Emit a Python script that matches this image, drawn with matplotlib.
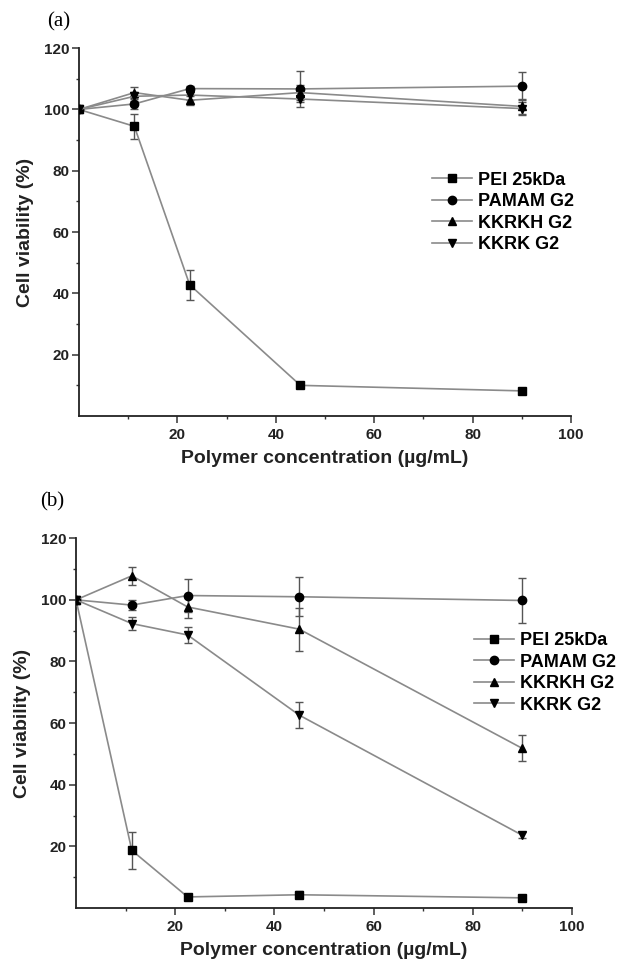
import matplotlib
matplotlib.use('Agg')
import matplotlib.pyplot as plt
from matplotlib.ticker import FixedLocator

plt.rcParams['font.family'] = ['Liberation Sans', 'DejaVu Sans']
plt.rcParams['font.weight'] = 'bold'

conc = [0, 11.25, 22.5, 45, 90]
labels = ['PEI 25kDa', 'PAMAM G2', 'KKRKH G2', 'KKRK G2']
markers = ['s', 'o', '^', 'v']

# panel (a)
a_pei = [100, 94.5, 42.8, 10.0, 8.2]
a_pei_err = [0.5, 4.0, 4.8, 0.6, 0.6]
a_pamam = [100, 101.8, 106.8, 106.7, 107.6]
a_pamam_err = [0.5, 1.5, 1.0, 5.8, 4.6]
a_kkrkh = [100, 105.5, 103.0, 105.5, 101.0]
a_kkrkh_err = [0.5, 1.8, 1.5, 2.5, 2.5]
a_kkrk = [100, 104.3, 104.7, 103.4, 100.3]
a_kkrk_err = [0.5, 1.5, 1.5, 1.0, 2.0]

# panel (b)
b_pei = [100, 18.7, 3.6, 4.3, 3.3]
b_pei_err = [0.5, 6.0, 0.8, 1.2, 0.8]
b_pamam = [100, 98.3, 101.4, 101.0, 99.8]
b_pamam_err = [0.5, 1.5, 5.3, 6.4, 7.3]
b_kkrkh = [100, 107.8, 97.7, 90.5, 51.8]
b_kkrkh_err = [0.5, 3.0, 3.5, 7.0, 4.2]
b_kkrk = [100, 92.3, 88.6, 62.6, 23.6]
b_kkrk_err = [0.5, 2.0, 2.7, 4.1, 1.0]

fig = plt.figure(figsize=(6.39, 9.63), dpi=100)
ax_a = fig.add_axes([0.1236, 0.568, 0.770, 0.382])
ax_b = fig.add_axes([0.119, 0.0571, 0.776, 0.384])


def draw(ax, series, errs, leg_xy, tag, tag_xy):
    lines = []
    for vals, err, m, lab in zip(series, errs, markers, labels):
        ax.errorbar(conc, vals, yerr=err, fmt='none', ecolor='#555555',
                    elinewidth=1.0, capsize=3, capthick=1.0, zorder=2)
        ln, = ax.plot(conc, vals, color='#8a8a8a', lw=1.2, marker=m,
                      ms=6 if m != 's' else 5.5, mfc='black', mec='black',
                      label=lab, zorder=3)
        lines.append(ln)
    ax.set_xlim(0, 100)
    ax.set_ylim(0, 120)
    ax.xaxis.set_major_locator(FixedLocator([20, 40, 60, 80, 100]))
    ax.xaxis.set_minor_locator(FixedLocator([10, 30, 50, 70, 90]))
    ax.yaxis.set_major_locator(FixedLocator([20, 40, 60, 80, 100, 120]))
    ax.yaxis.set_minor_locator(FixedLocator([10, 30, 50, 70, 90, 110]))
    for s in ['top', 'right']:
        ax.spines[s].set_visible(False)
    for s in ['left', 'bottom']:
        ax.spines[s].set_linewidth(1.3)
        ax.spines[s].set_color('#222222')
    ax.tick_params(which='major', direction='out', length=5, width=1.1,
                   labelsize=11, color='#333333')
    ax.tick_params(which='minor', direction='out', length=2.5, width=1.0,
                   color='#333333')
    ax.tick_params(axis='x', pad=3.5)
    ax.tick_params(axis='y', pad=2)
    for t in ax.get_xticklabels() + ax.get_yticklabels():
        t.set_fontweight('bold')
        t.set_color('#222222')
    ax.set_xlabel('Polymer concentration (\u00b5g/mL)', fontsize=14,
                  fontweight='bold', color='#222222', labelpad=6)
    ax.set_ylabel('Cell viability (%)', fontsize=14, fontweight='bold',
                  color='#222222', labelpad=7)
    ax.legend(handles=lines, loc='upper left', bbox_to_anchor=leg_xy,
              frameon=False, borderpad=0, borderaxespad=0, handlelength=2.2,
              handletextpad=0.35, labelspacing=0.25,
              prop={'family': 'Liberation Sans', 'weight': 'bold', 'size': 13})
    fig.text(tag_xy[0], tag_xy[1], tag, family='Liberation Serif',
             fontsize=15, fontweight='normal', va='center', ha='left')


draw(ax_a, [a_pei, a_pamam, a_kkrkh, a_kkrk],
     [a_pei_err, a_pamam_err, a_kkrkh_err, a_kkrk_err],
     (0.718, 0.664), '(a)', (47 / 639, 1 - 22 / 963))
draw(ax_b, [b_pei, b_pamam, b_kkrkh, b_kkrk],
     [b_pei_err, b_pamam_err, b_kkrkh_err, b_kkrk_err],
     (0.803, 0.746), '(b)', (40 / 639, 1 - 502 / 963))

fig.savefig('out.png', dpi=100)
